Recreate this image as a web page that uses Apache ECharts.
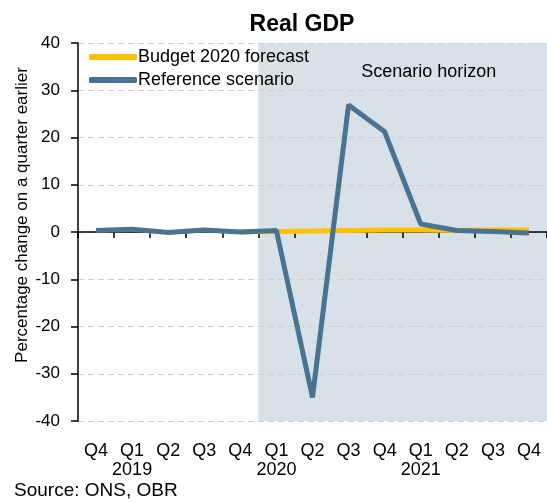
<!DOCTYPE html>
<html>
<head>
<meta charset="utf-8">
<script src="https://cdn.jsdelivr.net/npm/echarts@6/dist/echarts.min.js"></script>
<style>html,body{margin:0;padding:0;background:#fff;}#c{width:547px;height:502px;}</style>
</head>
<body>
<div id="c"></div>
<script>
var quarters = ['Q4','Q1','Q2','Q3','Q4','Q1','Q2','Q3','Q4','Q1','Q2','Q3','Q4'];
var years    = ['',  '2019','','','','2020','','','','2021','','',''];
var budget2020 = [null,null,null,null,0.0,0.1,0.2,0.3,0.4,0.4,0.3,0.4,0.4];
var reference  = [0.3,0.6,-0.1,0.4,0.0,0.3,-35.0,26.9,21.2,1.7,0.3,0.1,-0.2];
var yTicks = [-40,-30,-20,-10,0,10,20,30,40];
var scenarioStart = 5, scenarioEnd = 13;

var cats = quarters.map(function(q,i){ return q + '\n' + years[i]; });
var FONT = 'Liberation Sans';
var chart = echarts.init(document.getElementById('c'), null, {renderer:'canvas'});
chart.setOption({
  animation:false,
  textStyle:{fontFamily:FONT},
  title:{text:'Real GDP', left:297, textAlign:'center', top:8,
    textStyle:{fontSize:23, fontWeight:'bold', color:'#000', fontFamily:FONT}},
  grid:{left:78, right:-2, top:43, bottom:81},
  legend:{orient:'vertical', left:84, top:43, itemGap:5, itemWidth:48, itemHeight:6,
    icon:'roundRect', textStyle:{fontSize:18, color:'#000', padding:[0,0,0,-4]},
    data:['Budget 2020 forecast','Reference scenario']},
  xAxis:[
    {type:'category', data:cats, position:'bottom', boundaryGap:true,
     axisLine:{show:false, onZero:false}, axisTick:{show:false},
     axisLabel:{interval:0, fontSize:18, color:'#000', lineHeight:19, margin:21}},
    {type:'category', data:cats, position:'bottom', boundaryGap:true, z:4,
     axisLine:{show:true, onZero:true, lineStyle:{color:'#000', width:1.5}},
     axisTick:{show:true, length:6, lineStyle:{color:'#000', width:1.5}},
     axisLabel:{show:false}},
    {type:'value', min:0, max:quarters.length, show:false}
  ],
  yAxis:{type:'value', min:yTicks[0], max:yTicks[yTicks.length-1], interval:10, z:3,
    axisLine:{show:true, lineStyle:{color:'#000', width:1.5}},
    axisTick:{show:true, length:7, lineStyle:{color:'#000', width:1.5}},
    axisLabel:{fontSize:17, color:'#000', margin:18},
    splitLine:{show:true, lineStyle:{color:'#d0d0d0', type:[6,4], width:1}}},
  series:[
    {name:'shade', type:'line', xAxisIndex:2, data:[], z:1, silent:true,
     markArea:{silent:true, itemStyle:{color:'#D9E1E8'},
       label:{show:true, position:'insideTop', offset:[26,15], fontSize:18, color:'#000', fontFamily:FONT,
         formatter:'Scenario horizon'},
       data:[[{xAxis:scenarioStart, yAxis:yTicks[yTicks.length-1]},{xAxis:scenarioEnd, yAxis:yTicks[0]}]]}},
    {name:'Budget 2020 forecast', type:'line', xAxisIndex:1, data:budget2020, z:5,
     showSymbol:false, symbol:'none', lineStyle:{color:'#FFC000', width:5}, itemStyle:{color:'#FFC000'}},
    {name:'Reference scenario', type:'line', xAxisIndex:1, data:reference, z:6,
     showSymbol:false, symbol:'none', lineStyle:{color:'#4A7391', width:5}, itemStyle:{color:'#4A7391'}}
  ],
  graphic:[
    {type:'text', x:22, y:215, rotation:Math.PI/2,
     style:{text:'Percentage change on a quarter earlier', fontSize:17, fill:'#000', fontFamily:FONT,
       align:'center', verticalAlign:'middle'}},
    {type:'text', left:14, top:481, style:{text:'Source: ONS, OBR', fontSize:19, fill:'#000', fontFamily:FONT}}
  ]
});
</script>
</body>
</html>
